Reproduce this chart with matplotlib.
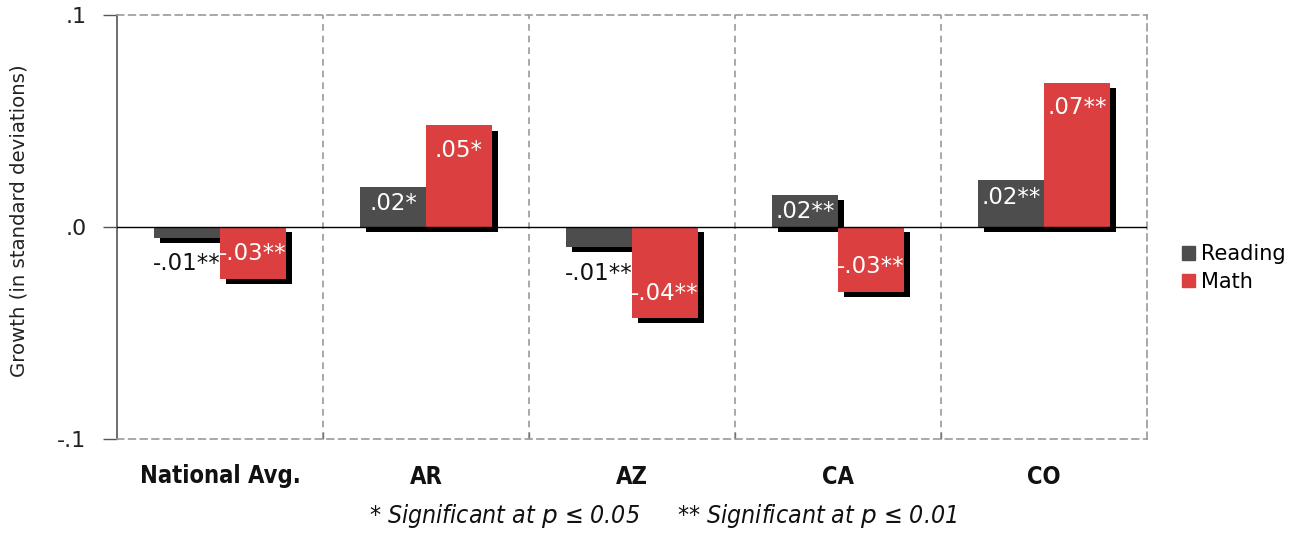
import matplotlib
matplotlib.use("Agg")
import matplotlib.pyplot as plt
import matplotlib.patheffects as pe
import numpy as np
from matplotlib.patches import Patch

categories = ["National Avg.", "AR", "AZ", "CA", "CO"]
reading = [-0.005, 0.019, -0.0093, 0.015, 0.022]
math_ = [-0.0245, 0.048, -0.043, -0.0305, 0.068]
reading_labels = ["-.01**", ".02*", "-.01**", ".02**", ".02**"]
math_labels = ["-.03**", ".05*", "-.04**", "-.03**", ".07**"]
yticks = [-0.1, 0.0, 0.1]
ytick_labels = ["-.1", ".0", ".1"]

c_read = "#4d4d4d"
c_math = "#db3f3f"

fig = plt.figure(figsize=(12.92, 5.33), dpi=100)
ax = fig.add_axes([117/1292, 1-439/533, (1147-117)/1292, (439-15)/533])

x = np.arange(len(categories))
w = 0.32
shadow = [pe.SimplePatchShadow(offset=(4.3, -3.8), shadow_rgbFace="black", alpha=1.0), pe.Normal()]
b1 = ax.bar(x - w/2, reading, w, color=c_read, zorder=2)
b2 = ax.bar(x + w/2, math_, w, color=c_math, zorder=2.5)
for b in list(b1) + list(b2):
    b.set_path_effects(shadow)

ax.axhline(0, color="black", lw=1.0, zorder=4)
for xb in [0.5, 1.5, 2.5, 3.5]:
    ax.axvline(xb, color="#999999", lw=1.2, ls=(0, (4, 3)), zorder=1)

ax.set_xlim(-0.5, 4.5)
ax.set_ylim(-0.1, 0.1)
ax.set_yticks(yticks)
ax.set_yticklabels(ytick_labels, fontsize=16, color="#222222")
ax.tick_params(axis="y", direction="out", length=10, width=1, color="#555555", pad=12)
ax.set_xticks([0.5, 1.5, 2.5, 3.5])
ax.set_xticklabels([])
ax.tick_params(axis="x", direction="in", length=5, width=1, color="#777777")

for s in ["top", "right", "bottom"]:
    ax.spines[s].set_color("#999999")
    ax.spines[s].set_linestyle((0, (4, 3)))
    ax.spines[s].set_linewidth(1.2)
ax.spines["left"].set_color("#555555")
ax.spines["left"].set_linewidth(1.2)

ax.set_ylabel("Growth (in standard deviations)", fontsize=14.2, color="#222222")
ax.yaxis.set_label_coords(-(117-29)/1030, (439-221)/424)

# category labels
for i, c in enumerate(categories):
    ax.annotate(c, (i, -0.1), xytext=(0, -27), textcoords="offset points",
                ha="center", va="center", fontsize=17, fontweight="bold",
                family="DejaVu Sans", fontstretch="condensed", color="#111111",
                annotation_clip=False)

def lab(bar, txt, val, off, color):
    xc = bar.get_x() + bar.get_width()/2
    ax.annotate(txt, (xc, val), xytext=(0, off), textcoords="offset points",
                ha="center", va="center", fontsize=16.5, color=color, zorder=6)

for i in range(len(categories)):
    if reading[i] < 0:
        lab(b1[i], reading_labels[i], reading[i], -19, "#111111")
    else:
        lab(b1[i], reading_labels[i], reading[i], -12, "white")
    sgn = 1 if math_[i] >= 0 else -1
    lab(b2[i], math_labels[i], math_[i], -sgn*18, "white")

fig.legend(handles=[Patch(color=c_read, label="Reading"), Patch(color=c_math, label="Math")],
           loc="center left", bbox_to_anchor=(1182/1292, 1-268/533), frameon=False,
           fontsize=15, handlelength=0.6, handleheight=0.6, handletextpad=0.3,
           labelspacing=0.35, borderaxespad=0, borderpad=0)

fig.text(505/1292, 1-516/533, "* Significant at $p$ ≤ 0.05", ha="center", va="center",
         fontsize=17.8, style="italic", family="DejaVu Sans", fontstretch="condensed",
         color="#111111")
fig.text(817/1292, 1-516/533, "** Significant at $p$ ≤ 0.01", ha="center", va="center",
         fontsize=17.8, style="italic", family="DejaVu Sans", fontstretch="condensed",
         color="#111111")

fig.savefig("out.png", dpi=100)
